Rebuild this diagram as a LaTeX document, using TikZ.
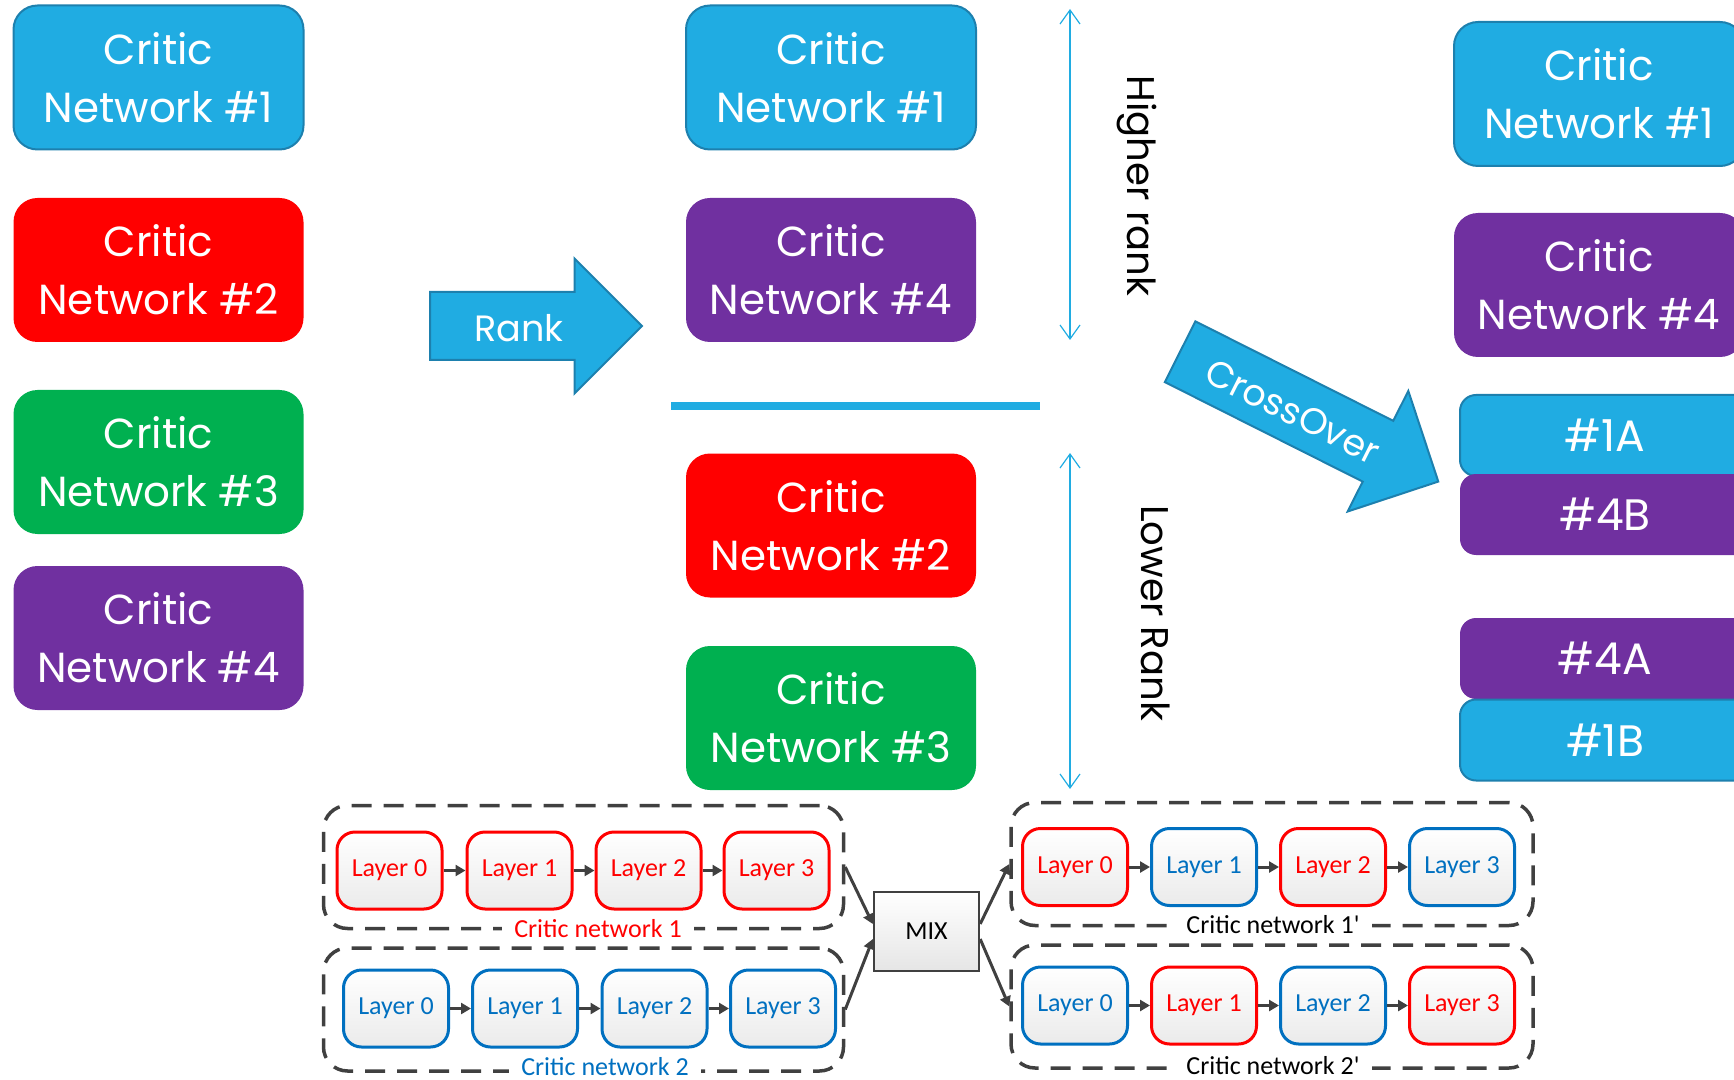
\documentclass[tikz,border=0pt]{standalone}
\usepackage{fontspec}
\newfontfamily\gothic{Poppins}
\newfontfamily\carlito{Carlito}
\usetikzlibrary{shapes.arrows,arrows.meta}
\definecolor{netblue}{HTML}{20ACE2}
\definecolor{netblueline}{HTML}{1D80AE}
\definecolor{netred}{HTML}{FF0000}
\definecolor{netgreen}{HTML}{00B050}
\definecolor{netpurple}{HTML}{7030A0}
\definecolor{layerblue}{HTML}{0070C0}
\definecolor{boxgray}{HTML}{404040}
\tikzset{
  critic/.style={rounded corners=12pt, minimum width=145pt, minimum height=72pt,
    align=center, text=white, font=\gothic\fontsize{21}{29}\selectfont},
  half/.style={rounded corners=8pt, minimum width=145pt, minimum height=40.5pt,
    text=white, font=\gothic\fontsize{22}{29}\selectfont},
  bigarrow/.style={single arrow, draw=netblueline, fill=netblue, line width=1pt,
    single arrow head extend=16.75pt, minimum width=66.5pt,
    text height=15.5pt, text depth=0pt, inner xsep=2pt, inner ysep=8.75pt,
    text=white, font=\gothic\fontsize{18.3}{24}\selectfont},
  rankline/.style={{Straight Barb[length=7pt,width=10pt]}-{Straight Barb[length=7pt,width=10pt]},
    draw=netblue, line width=0.6pt},
  ranktext/.style={rotate=-90, font=\gothic\fontsize{19.3}{26}\selectfont},
  layerbox/.style={draw, rounded corners=9pt, line width=1.5pt, minimum width=52.5pt,
    minimum height=38.5pt, top color=white, bottom color=black!8,
    font=\carlito\fontsize{13}{15}\selectfont},
  redlayer/.style={layerbox, draw=netred, text=netred},
  bluelayer/.style={layerbox, draw=layerblue, text=layerblue},
  group/.style={draw=boxgray, line width=1.75pt, dash pattern=on 10pt off 6pt,
    rounded corners=12pt, minimum width=260pt, minimum height=61.5pt},
  grouplabel/.style={fill=white, inner xsep=6pt, inner ysep=2pt,
    font=\carlito\fontsize{13}{15}\selectfont},
  flow/.style={-{Triangle[length=5pt,width=5.5pt]}, draw=boxgray, line width=1.5pt}
}
\begin{document}
\begin{tikzpicture}[x=0.5pt, y=-0.5pt]
\useasboundingbox (0,0) rectangle (1734,1080);
\clip (0,0) rectangle (1734,1080);

% initial population
\node[critic, fill=netblue, draw=netblueline, line width=1pt] (L1) at (158.5,77.5) {Critic\\Network \#1};
\node[critic, fill=netred] (L2) at (158.5,270) {Critic\\Network \#2};
\node[critic, fill=netgreen] (L3) at (158.5,462) {Critic\\Network \#3};
\node[critic, fill=netpurple] (L4) at (158.5,638) {Critic\\Network \#4};

\node[bigarrow, minimum height=106pt] (rank) at (519,326) {Rank};

% ranked population
\node[critic, fill=netblue, draw=netblueline, line width=1pt] (M1) at (831,77.5) {Critic\\Network \#1};
\node[critic, fill=netpurple] (M4) at (831,270) {Critic\\Network \#4};
\node[critic, fill=netred] (M2) at (831,525.5) {Critic\\Network \#2};
\node[critic, fill=netgreen] (M3) at (831,718) {Critic\\Network \#3};

\coordinate (sepl) at (671,406);
\coordinate (sepr) at (1040,406);
\path[draw=netblue, line width=4pt] (sepl) -- (sepr);

\coordinate (hightop) at (1070,9);
\coordinate (highbot) at (1070,340);
\coordinate (lowtop) at (1070,453);
\coordinate (lowbot) at (1070,789);
\path[rankline] (hightop) -- (highbot);
\path[rankline] (lowtop) -- (lowbot);
\node[ranktext] (higher) at (1137,186) {Higher rank};
\node[ranktext] (lower) at (1156,613) {Lower Rank};

\node[bigarrow, minimum height=144.5pt, rotate=-26.7] (cross) at (1294,409) {CrossOver};

% next population
\node[critic, fill=netblue, draw=netblueline, line width=1pt] (R1) at (1599,94) {Critic\\Network \#1};
\node[critic, fill=netpurple] (R4) at (1599,285) {Critic\\Network \#4};
\node[half, fill=netblue, draw=netblueline, line width=1pt] (A1) at (1605,435.5) {\#1A};
\node[half, fill=netpurple] (B4) at (1605,514.5) {\#4B};
\node[half, fill=netpurple] (A4) at (1605,658.5) {\#4A};
\node[half, fill=netblue, draw=netblueline, line width=1pt] (B1) at (1605,740) {\#1B};

% layer mixing
\node[group] (net1) at (583.5,867) {};
\node[group] (net2) at (583.5,1009.5) {};
\node[group, minimum width=261pt] (net1p) at (1272,864) {};
\node[group, minimum width=261pt] (net2p) at (1272,1006.5) {};
\node[grouplabel, text=netred] (lab1) at (598,929) {Critic network 1};
\node[grouplabel, text=layerblue] (lab2) at (605,1067) {Critic network 2};
\node[grouplabel] (lab1p) at (1273,925) {Critic network 1'};
\node[grouplabel] (lab2p) at (1273,1066) {Critic network 2'};

\node[redlayer] (r0) at (389.5,870.5) {Layer 0};
\node[redlayer] (r1) at (519.5,870.5) {Layer 1};
\node[redlayer] (r2) at (648.5,870.5) {Layer 2};
\node[redlayer] (r3) at (776.5,870.5) {Layer 3};

\node[bluelayer] (b0) at (396,1008.5) {Layer 0};
\node[bluelayer] (b1) at (525,1008.5) {Layer 1};
\node[bluelayer] (b2) at (654.5,1008.5) {Layer 2};
\node[bluelayer] (b3) at (783,1008.5) {Layer 3};

\node[redlayer] (p0) at (1075,867) {Layer 0};
\node[bluelayer] (p1) at (1204,867) {Layer 1};
\node[redlayer] (p2) at (1333,867) {Layer 2};
\node[bluelayer] (p3) at (1462,867) {Layer 3};

\node[bluelayer] (q0) at (1075,1005.5) {Layer 0};
\node[redlayer] (q1) at (1204,1005.5) {Layer 1};
\node[bluelayer] (q2) at (1333,1005.5) {Layer 2};
\node[redlayer] (q3) at (1462,1005.5) {Layer 3};

\node[draw=boxgray, line width=1.2pt, top color=white, bottom color=black!10,
  minimum width=52.5pt, minimum height=39.5pt, font=\carlito\fontsize{13}{15}\selectfont] (mix) at (926.5,931.5) {MIX};

\path[flow] (r0) -- (r1);
\path[flow] (r1) -- (r2);
\path[flow] (r2) -- (r3);
\path[flow] (b0) -- (b1);
\path[flow] (b1) -- (b2);
\path[flow] (b2) -- (b3);
\path[flow] (p0) -- (p1);
\path[flow] (p1) -- (p2);
\path[flow] (p2) -- (p3);
\path[flow] (q0) -- (q1);
\path[flow] (q1) -- (q2);
\path[flow] (q2) -- (q3);

\path[flow] (net1.east) -- (mix.172);
\path[flow] (net2.east) -- (mix.188);
\path[flow] (mix.8) -- (net1p.west);
\path[flow] (mix.352) -- (net2p.west);
\end{tikzpicture}
\end{document}
